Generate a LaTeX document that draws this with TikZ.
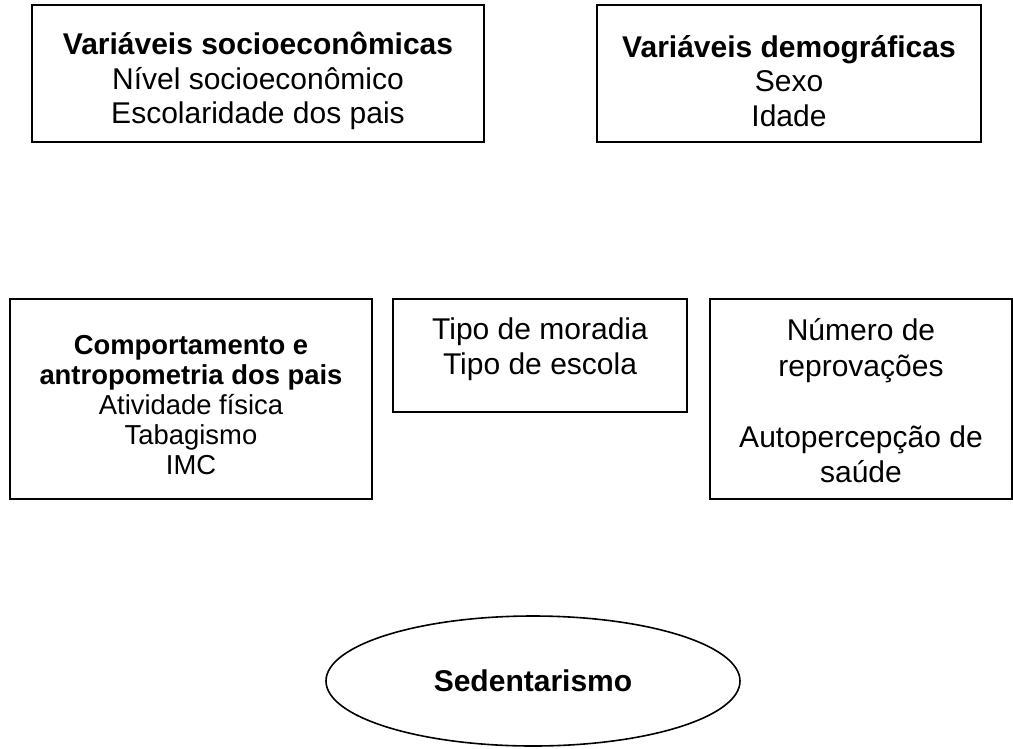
\documentclass[tikz,border=0pt]{standalone}
\usepackage{fontspec}
\setmainfont{Liberation Sans}
\usetikzlibrary{shapes.geometric}
\begin{document}
\begin{tikzpicture}[x=1pt,y=-1pt,
  box/.style={draw=black, line width=1.6pt, rectangle, inner sep=0pt},
  big/.style={font=\fontsize{30}{34.5}\selectfont, align=center, inner sep=0pt},
  small/.style={font=\fontsize{27.4}{30}\selectfont, align=center, inner sep=0pt}]
\useasboundingbox (0,0) rectangle (1013,748);
% top row
\node[box, minimum width=452pt, minimum height=137pt] (b1) at (258,73.5) {};
\node[big] (t1) at (258,81) {\textbf{Variáveis socioeconômicas}\\Nível socioeconômico\\Escolaridade dos pais};
\node[box, minimum width=384pt, minimum height=137pt] (b2) at (789,73.5) {};
\node[big] (t2) at (789,81) {\textbf{Variáveis demográficas}\\Sexo\\Idade};
% middle row
\node[box, minimum width=362pt, minimum height=200pt] (b3) at (191,399) {};
\node[small] (t3) at (191,405) {\textbf{Comportamento e}\\\textbf{antropometria dos pais}\\Atividade física\\Tabagismo\\IMC};
\node[box, minimum width=294pt, minimum height=113pt] (b4) at (540,355.5) {};
\node[big] (t4) at (540,349) {Tipo de moradia\\Tipo de escola};
\node[box, minimum width=302pt, minimum height=200pt] (b5) at (861,399) {};
\node[font=\fontsize{30}{35.5}\selectfont, align=center, inner sep=0pt] (t5) at (861,401) {Número de\\reprovações\\[35.5pt]Autopercepção de\\saúde};
% bottom
\node[draw=black, line width=1.6pt, ellipse, minimum width=414pt, minimum height=130pt, inner sep=0pt, font=\fontsize{30}{34.5}\selectfont\bfseries] (sed) at (533,681) {Sedentarismo};
\end{tikzpicture}
\end{document}
